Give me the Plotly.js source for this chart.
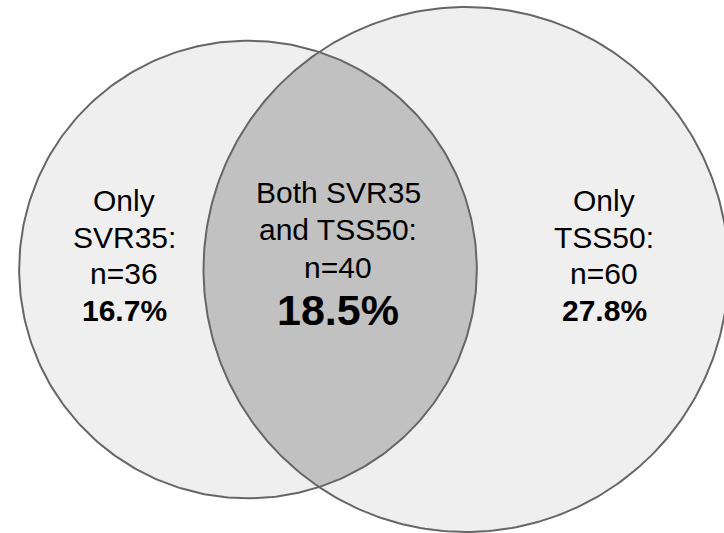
<!DOCTYPE html>
<html>
<head>
<meta charset="utf-8">
<script src="https://cdn.plot.ly/plotly-3.0.1.min.js"></script>
<style>html,body{margin:0;padding:0;background:#fff;}#chart{width:724px;height:533px;}</style>
</head>
<body>
<div id="chart"></div>
<script>
// ---- data ----
const setNames = ["SVR35", "TSS50"];
const regionHeads = [["Only", "SVR35:"], ["Both SVR35", "and TSS50:"], ["Only", "TSS50:"]];
const regionCounts = [36, 40, 60];
const regionPercents = ["16.7%", "18.5%", "27.8%"];

// ---- layout geometry (pixel-like coordinates) ----
const setTotals = [regionCounts[0] + regionCounts[1], regionCounts[2] + regionCounts[1]];
const k = 26.25;                        // radius scale: r = k * sqrt(set total)
const radii = setTotals.map(t => k * Math.sqrt(t));
const centers = [[248, 269.5], [466, 269.5]];

function circlePts(c, r, n) {
  const xs = [], ys = [];
  for (let i = 0; i <= n; i++) {
    const a = 2 * Math.PI * i / n;
    xs.push(c[0] + r * Math.cos(a));
    ys.push(c[1] + r * Math.sin(a));
  }
  return {x: xs, y: ys};
}
function lensPts(c1, r1, c2, r2, n) {
  const d = c2[0] - c1[0];
  const a = (d * d + r1 * r1 - r2 * r2) / (2 * d);
  const h = Math.sqrt(r1 * r1 - a * a);
  // angles on circle 1 (right arc) and circle 2 (left arc)
  const t1 = Math.atan2(h, a);
  const t2 = Math.atan2(h, a - d);
  const xs = [], ys = [];
  for (let i = 0; i <= n; i++) {
    const t = -t1 + 2 * t1 * i / n;
    xs.push(c1[0] + r1 * Math.cos(t)); ys.push(c1[1] + r1 * Math.sin(t));
  }
  for (let i = 0; i <= n; i++) {
    const t = t2 + (2 * Math.PI - 2 * t2) * i / n;
    xs.push(c2[0] + r2 * Math.cos(t)); ys.push(c2[1] + r2 * Math.sin(t));
  }
  xs.push(xs[0]); ys.push(ys[0]);
  return {x: xs, y: ys};
}

const light = "#efefef", dark = "#c1c1c1", edge = "#666666";
const c0 = circlePts(centers[0], radii[0], 360);
const c1 = circlePts(centers[1], radii[1], 360);
const lens = lensPts(centers[0], radii[0], centers[1], radii[1], 200);

const traces = [
  {x: c0.x, y: c0.y, mode: "lines", fill: "toself", fillcolor: light, line: {width: 0, color: light}, hoverinfo: "skip", name: setNames[0]},
  {x: c1.x, y: c1.y, mode: "lines", fill: "toself", fillcolor: light, line: {width: 0, color: light}, hoverinfo: "skip", name: setNames[1]},
  {x: lens.x, y: lens.y, mode: "lines", fill: "toself", fillcolor: dark, line: {width: 0, color: dark}, hoverinfo: "skip", name: "both"},
  {x: c0.x, y: c0.y, mode: "lines", line: {width: 2, color: edge}, hoverinfo: "skip"},
  {x: c1.x, y: c1.y, mode: "lines", line: {width: 2, color: edge}, hoverinfo: "skip"}
];

// text placement
const textX = [124, 338, 604];
const lineY = [[200, 237, 273, 310], [192, 229, 267, 310], [200, 237, 273, 310]];
const font = "Liberation Sans, Arial, sans-serif";
const annotations = [];
for (let r = 0; r < 3; r++) {
  const lines = [regionHeads[r][0], regionHeads[r][1], "n=" + regionCounts[r], "<b>" + regionPercents[r] + "</b>"];
  lines.forEach((t, i) => {
    annotations.push({
      x: textX[r], y: lineY[r][i], xref: "x", yref: "y", text: t, showarrow: false,
      xanchor: "center", yanchor: "middle",
      font: {family: font, size: (r === 1 && i === 3) ? 43 : 30, color: "#000"}
    });
  });
}

const layout = {
  width: 724, height: 533,
  margin: {l: 0, r: 0, t: 0, b: 0},
  paper_bgcolor: "#ffffff", plot_bgcolor: "#ffffff",
  showlegend: false,
  xaxis: {range: [0, 724], visible: false, fixedrange: true},
  yaxis: {range: [533, 0], visible: false, fixedrange: true},
  annotations: annotations
};

Plotly.newPlot("chart", traces, layout, {staticPlot: true});
</script>
</body>
</html>
